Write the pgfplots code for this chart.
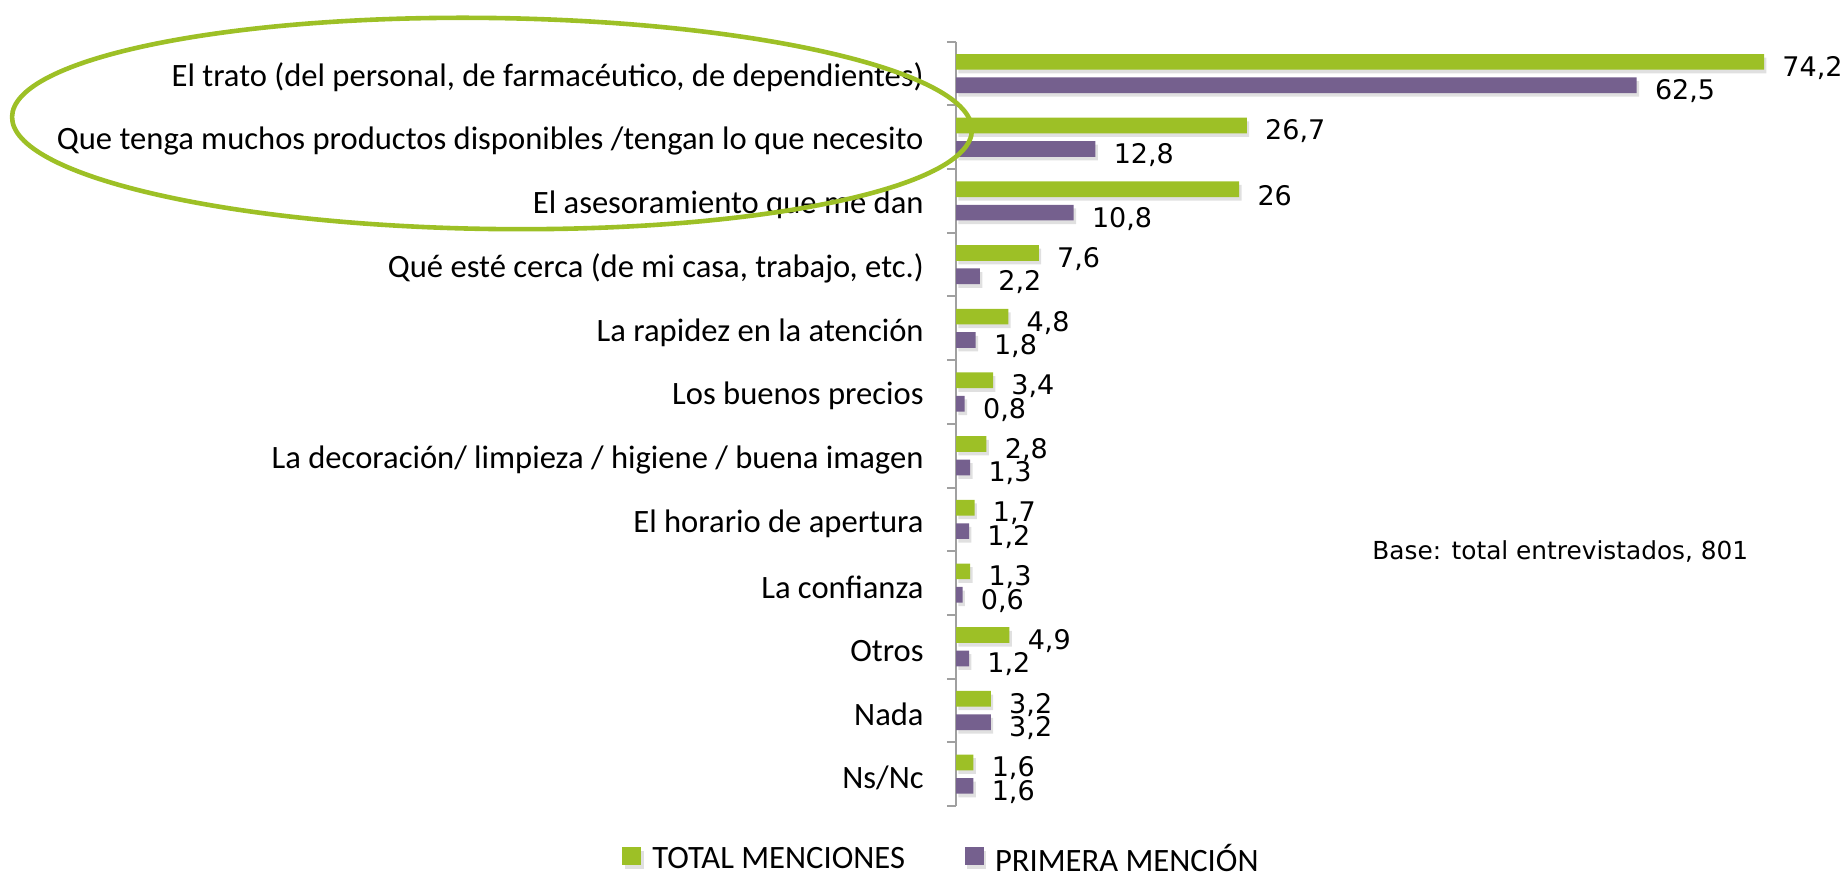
\documentclass[border=0pt]{standalone}
\usepackage{fontspec}
\setmainfont{Carlito}
\newfontfamily\dejavu{DejaVu Sans}
\usepackage{pgfplots}
\pgfplotsset{compat=1.18}
\definecolor{cgreen}{RGB}{157,192,38}
\definecolor{cpurple}{RGB}{117,96,142}
\definecolor{axgray}{RGB}{160,160,160}
\begin{document}
\fontsize{16.3}{19}\selectfont
\begin{tikzpicture}
\path[use as bounding box] (0pt,0pt) rectangle (920.5pt,439.5pt);
\begin{axis}[
  at={(478pt,36.5pt)}, anchor=south west,
  scale only axis, width=435.6pt, height=382.15pt,
  xbar, bar width=7.85pt,
  xmin=0, xmax=80, ymin=-0.5, ymax=11.5, y dir=reverse,
  hide x axis,
  axis y line*=left,
  y axis line style={axgray, line width=1pt, -},
  ytick={0,...,11},
  yticklabels={{El trato (del personal, de farmacéutico, de dependientes)},
    {Que tenga muchos productos disponibles /tengan lo que necesito},
    {El asesoramiento que me dan},
    {Qué esté cerca (de mi casa, trabajo, etc.)},
    {La rapidez en la atención},
    {Los buenos precios},
    {La decoración/ limpieza / higiene / buena imagen},
    {El horario de apertura},
    {La confianza},
    {Otros},
    {Nada},
    {Ns/Nc}},
  minor ytick={-0.5,0.5,...,11.5},
  major tick length=0pt, minor tick length=4.5pt, tick align=outside,
  minor tick style={axgray, line width=1pt},
  major tick style={draw=none},
  yticklabel style={font=\fontsize{16.3}{19}\selectfont, inner sep=0pt, xshift=-16pt, yshift=-2pt},
  point meta=x,
  nodes near coords={\pgfmathprintnumber[use comma, assume math mode=true]{\pgfplotspointmeta}},
  every node near coord/.append style={font=\dejavu\fontsize{13.5}{15}\selectfont, anchor=west, inner sep=0pt, xshift=9pt, yshift=-3pt, text=black},
  legend style={at={(-0.0178,-0.0715)}, anchor=center, draw=none, fill=none, legend columns=2,
    font=\fontsize{16.3}{19}\selectfont, column sep=5.5pt,
    /tikz/every even column/.append style={column sep=30pt}, nodes={inner sep=0pt}},
]
\addplot[fill=cgreen, draw=none, bar shift=5.85pt,
  preaction={fill=black!12, transform canvas={xshift=1.2pt, yshift=-1.8pt}},
  legend image code/.code={\fill[cgreen] (0pt,-2.3pt) rectangle (9.5pt,6.7pt);}] coordinates {
  (74.2,0) (26.7,1) (26,2) (7.6,3) (4.8,4) (3.4,5) (2.8,6) (1.7,7) (1.3,8) (4.9,9) (3.2,10) (1.6,11)};
\addplot[fill=cpurple, draw=none, bar shift=-5.85pt,
  preaction={fill=black!12, transform canvas={xshift=1.2pt, yshift=-1.8pt}},
  legend image code/.code={\fill[cpurple] (0pt,-2.3pt) rectangle (9.5pt,6.7pt);}] coordinates {
  (62.5,0) (12.8,1) (10.8,2) (2.2,3) (1.8,4) (0.8,5) (1.3,6) (1.2,7) (0.6,8) (1.2,9) (3.2,10) (1.6,11)};
\legend{TOTAL MENCIONES, PRIMERA MENCIÓN}
\node[anchor=west, inner sep=0pt, font=\dejavu\fontsize{12.4}{14}\selectfont] at (axis cs:38.2,7.5) {Base: total entrevistados, 801};
\end{axis}
\draw[cgreen, line width=2.3pt, rotate around={-0.8:(246pt,377.75pt)}] (246pt,377.75pt) ellipse [x radius=240pt, y radius=52.75pt];
\end{tikzpicture}
\end{document}
